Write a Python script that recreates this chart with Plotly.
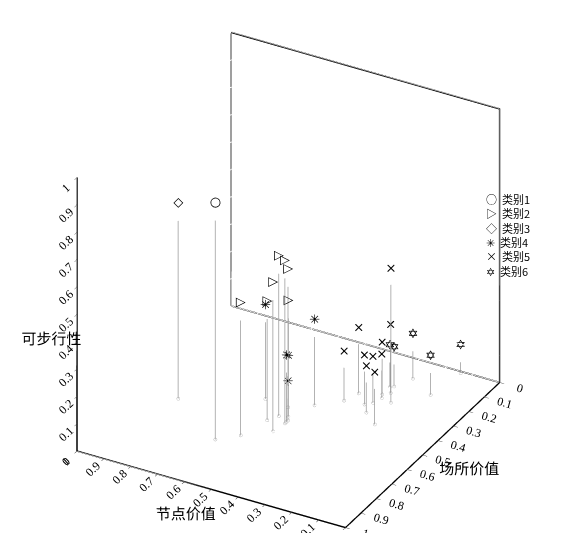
import plotly.graph_objects as go

# 节点价值 (x), 场所价值 (y), 可步行性 (z)
c1_x = [0.64]; c1_y = [0.73]; c1_z = [0.80]
c2_x = [0.58, 0.53, 0.49, 0.53, 0.50, 0.50, 0.55]
c2_y = [0.67, 0.51, 0.54, 0.45, 0.60, 0.50, 0.55]
c2_z = [0.42, 0.52, 0.53, 0.44, 0.48, 0.36, 0.37]
c3_x = [0.87]; c3_y = [0.57]; c3_z = [0.65]
c4_x = [0.62, 0.46, 0.50, 0.49, 0.49]
c4_y = [0.44, 0.40, 0.50, 0.53, 0.52]
c4_z = [0.28, 0.25, 0.16, 0.18, 0.08]
c5_x = [0.39, 0.25, 0.37, 0.32, 0.29, 0.23, 0.30, 0.30, 0.29, 0.28]
c5_y = [0.33, 0.27, 0.27, 0.32, 0.36, 0.41, 0.30, 0.24, 0.26, 0.22]
c5_z = [0.12, 0.43, 0.18, 0.12, 0.11, 0.13, 0.11, 0.13, 0.10, 0.19]
c6_x = [0.26, 0.16, 0.14, 0.29, 0.30]
c6_y = [0.11, 0.17, 0.01, 0.18, 0.19]
c6_z = [0.10, 0.08, 0.04, 0.08, 0.09]

groups = [
    ("类别1", "○", c1_x, c1_y, c1_z),
    ("类别2", "▷", c2_x, c2_y, c2_z),
    ("类别3", "◇", c3_x, c3_y, c3_z),
    ("类别4", "✳", c4_x, c4_y, c4_z),
    ("类别5", "×", c5_x, c5_y, c5_z),
    ("类别6", "✡", c6_x, c6_y, c6_z),
]

fig = go.Figure()

# back box edges
fig.add_trace(go.Scatter3d(x=[0, 1, 1, 0, 0], y=[0, 0, 0, 0, 0], z=[0, 0, 1, 1, 0],
                           mode="lines", line=dict(color="black", width=3), showlegend=False))

for name, sym, xs, ys, zs in groups:
    lx, ly, lz = [], [], []
    for x, y, z in zip(xs, ys, zs):
        lx += [x, x, None]; ly += [y, y, None]; lz += [0, z, None]
    fig.add_trace(go.Scatter3d(x=lx, y=ly, z=lz, mode="lines",
                               line=dict(color="#999999", width=1.5), showlegend=False))
    fig.add_trace(go.Scatter3d(x=xs, y=ys, z=[0] * len(xs), mode="markers",
                               marker=dict(size=2, color="#aaaaaa", symbol="circle-open"),
                               showlegend=False))
    fig.add_trace(go.Scatter3d(x=xs, y=ys, z=zs, mode="text", text=[sym] * len(xs),
                               textfont=dict(size=13, color="black", family="DejaVu Sans"),
                               showlegend=False))

legend_text = "<br>".join(f"{s}  {n}" for n, s, *_ in groups)
fig.add_annotation(x=0.835, y=0.66, xref="paper", yref="paper", text=legend_text,
                   showarrow=False, align="left", xanchor="left", yanchor="top",
                   font=dict(size=11, family="Noto Sans CJK SC", color="black"))

ax = dict(range=[0, 1], dtick=0.1, showbackground=False, gridcolor="rgba(0,0,0,0)",
          showline=True, linecolor="black", linewidth=3, ticks="outside",
          tickfont=dict(size=12, family="Liberation Serif", color="black"),
          zeroline=False, showspikes=False)
fig.update_layout(
    width=570, height=533, paper_bgcolor="white", margin=dict(l=0, r=0, t=0, b=0),
    font=dict(family="Noto Sans CJK SC", color="black"),
    scene=dict(
        domain=dict(x=[0, 1], y=[0, 1]),
        xaxis=dict(ax, title=dict(text="节点价值", font=dict(size=15))),
        yaxis=dict(ax, title=dict(text="场所价值", font=dict(size=15))),
        zaxis=dict(ax, title=dict(text="可步行性", font=dict(size=15))),
        aspectmode="manual", aspectratio=dict(x=1.15, y=1.2, z=1.2),
        camera=dict(eye=dict(x=-0.84, y=1.49, z=1.06),
                    center=dict(x=-0.02, y=0, z=0.03),
                    projection=dict(type="orthographic")),
    ),
)
fig.write_html("out.html")
